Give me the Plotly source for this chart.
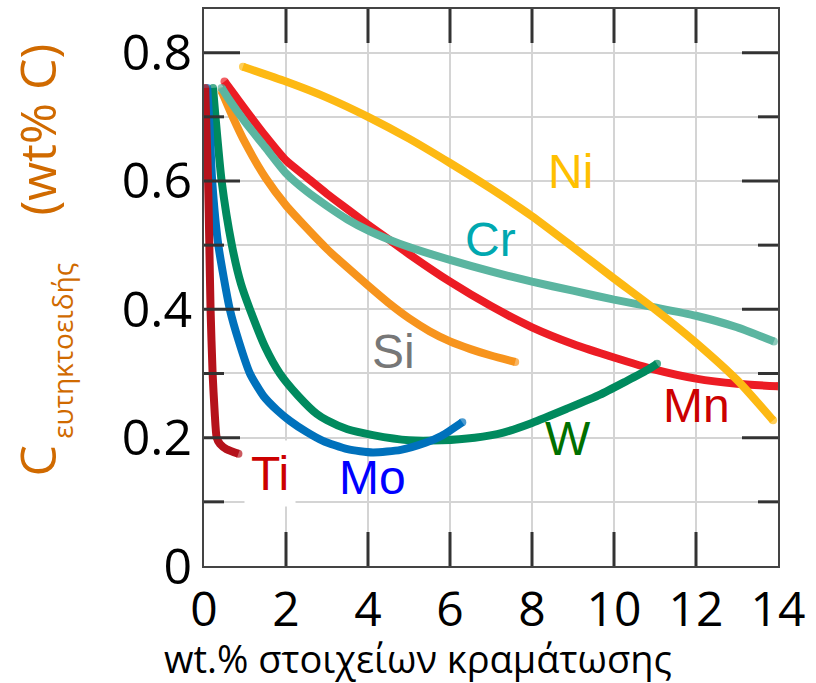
import plotly.graph_objects as go

# Eutectoid carbon content vs. alloying element content (wt.%)
ni_x = [0.95, 2.0, 3.0, 4.0, 5.0, 6.0, 7.0, 8.0, 9.0, 10.0, 11.0, 12.0, 13.0, 13.88]
ni_y = [0.778, 0.755, 0.730, 0.700, 0.666, 0.628, 0.588, 0.545, 0.497, 0.448, 0.400, 0.348, 0.290, 0.227]

cr_x = [0.43, 0.6, 1.0, 1.5, 2.0, 2.5, 3.0, 3.5, 4.0, 4.5, 5.0, 6.0, 7.0, 8.0, 9.0, 10.0, 11.0, 12.0, 13.0, 13.9]
cr_y = [0.745, 0.728, 0.692, 0.652, 0.612, 0.584, 0.561, 0.540, 0.523, 0.509, 0.497, 0.477, 0.459, 0.443, 0.429, 0.415, 0.403, 0.390, 0.372, 0.350]

mn_x = [0.5, 0.7, 1.0, 1.5, 2.0, 2.5, 3.0, 3.5, 4.0, 4.5, 5.0, 6.0, 7.0, 8.0, 9.0, 10.0, 11.0, 12.0, 13.0, 14.0]
mn_y = [0.755, 0.738, 0.712, 0.670, 0.632, 0.606, 0.580, 0.556, 0.532, 0.509, 0.486, 0.443, 0.405, 0.372, 0.346, 0.325, 0.306, 0.292, 0.284, 0.280]

si_x = [0.43, 0.7, 1.0, 1.5, 2.0, 2.5, 3.0, 3.5, 4.0, 4.5, 5.0, 5.5, 6.0, 6.5, 7.0, 7.59]
si_y = [0.740, 0.700, 0.660, 0.605, 0.562, 0.527, 0.494, 0.465, 0.437, 0.410, 0.386, 0.366, 0.350, 0.338, 0.328, 0.318]

w_x = [0.22, 0.28, 0.43, 0.68, 0.9, 1.12, 1.5, 1.85, 2.3, 2.75, 3.0, 3.5, 4.12, 5.0, 5.8, 6.6, 7.3, 8.0, 8.85, 9.66, 10.3, 10.8, 11.05]
w_y = [0.745, 0.700, 0.600, 0.500, 0.440, 0.400, 0.340, 0.300, 0.265, 0.237, 0.227, 0.213, 0.204, 0.196, 0.196, 0.200, 0.208, 0.223, 0.245, 0.267, 0.288, 0.305, 0.315]

mo_x = [0.08, 0.14, 0.2, 0.35, 0.63, 0.85, 1.12, 1.45, 1.78, 2.1, 2.5, 2.9, 3.5, 4.12, 4.8, 5.4, 5.8, 6.3]
mo_y = [0.745, 0.680, 0.600, 0.500, 0.400, 0.350, 0.300, 0.265, 0.243, 0.226, 0.209, 0.195, 0.182, 0.177, 0.181, 0.192, 0.203, 0.224]

ti_x = [0.03, 0.06, 0.10, 0.13, 0.16, 0.21, 0.26, 0.31, 0.39, 0.55, 0.84]
ti_y = [0.745, 0.680, 0.600, 0.500, 0.400, 0.300, 0.240, 0.200, 0.190, 0.182, 0.175]

x_ticks = [0, 2, 4, 6, 8, 10, 12, 14]
y_ticks = [0, 0.2, 0.4, 0.6, 0.8]
y_minor = [0.1, 0.3, 0.5, 0.7]
y_tick_text = ["0", "0.2", "0.4", "0.6", "0.8"]

# name, x, y, line colour, label colour, label position (x, y), white box
series = [
    ("Mn", mn_x, mn_y, "#EC1C24", "#CC0000", (12.02, 0.25), False),
    ("Si", si_x, si_y, "#F7941D", "#777777", (4.61, 0.335), False),
    ("Cr", cr_x, cr_y, "#5BB5A0", "#00A8B0", (6.98, 0.509), False),
    ("Ni", ni_x, ni_y, "#FDB913", "#FFC000", (8.93, 0.615), False),
    ("W", w_x, w_y, "#008A5E", "#007000", (8.88, 0.199), False),
    ("Mo", mo_x, mo_y, "#0071BC", "#0000FF", (4.12, 0.138), False),
    ("Ti", ti_x, ti_y, "#B5121B", "#CC0000", (1.61, 0.144), True),
]

LW = 8
fig = go.Figure()
for name, xs, ys, lc, tc, (lx, ly), boxed in series:
    caps = [LW] + [0] * (len(xs) - 2) + [LW]
    fig.add_trace(go.Scatter(
        x=xs, y=ys, mode="lines+markers", name=name,
        line=dict(color=lc, width=LW, shape="spline", smoothing=0.6),
        marker=dict(color=lc, size=caps, line=dict(width=0)),
        hoverinfo="skip", showlegend=False,
    ))
    fig.add_annotation(
        x=lx, y=ly, xref="x", yref="y", text=name, showarrow=False,
        xanchor="center", yanchor="middle",
        font=dict(family="Liberation Sans, Arial", size=48, color=tc),
        bgcolor="white" if boxed else None, borderpad=6 if boxed else 1,
    )

# plot area in page pixels
L, R, T, B = 204, 778, 7, 566


def px(xp):
    return (xp - L) / (R - L)


def py(yp):
    return (B - yp) / (B - T)


def page_text(xp, yp, text, size, color, angle=0):
    fig.add_annotation(x=px(xp), y=py(yp), xref="paper", yref="paper", text=text,
                       textangle=angle, showarrow=False,
                       xanchor="center", yanchor="middle",
                       font=dict(family="Open Sans", size=size, color=color))


TITLE_C = "#D06A00"
page_text(37, 128, "(wt% C)", 50, TITLE_C, -90)
page_text(37, 460, "C", 50, TITLE_C, -90)
page_text(62, 350, "ευτηκτοειδής", 28, TITLE_C, -90)
page_text(418, 658, "wt.% στοιχείων κραμάτωσης", 38, "black")

# inward tick marks on all four sides of the frame
TICK_C = "#333333"
MAJOR, MINOR = 34, 20
tick_line = dict(color=TICK_C, width=3)

for v in x_ticks[1:-1]:
    # bottom and top edges, length in pixels
    fig.add_shape(type="line", xref="x", yref="paper", ysizemode="pixel", yanchor=0,
                  x0=v, x1=v, y0=0, y1=MAJOR, layer="above", line=tick_line)
    fig.add_shape(type="line", xref="x", yref="paper", ysizemode="pixel", yanchor=1,
                  x0=v, x1=v, y0=0, y1=-MAJOR, layer="above", line=tick_line)
for vals, ln in ((y_ticks[1:], MAJOR + 2), (y_minor, MINOR)):
    for v in vals:
        fig.add_shape(type="line", xref="paper", yref="y", xsizemode="pixel", xanchor=0,
                      x0=0, x1=ln, y0=v, y1=v, layer="above", line=tick_line)
        fig.add_shape(type="line", xref="paper", yref="y", xsizemode="pixel", xanchor=1,
                      x0=0, x1=-ln, y0=v, y1=v, layer="above", line=tick_line)

grid_c = "#D4D4D4"
frame_c = "#444444"
fig.update_xaxes(
    range=[0, 14], tickvals=x_ticks, ticktext=[str(v) for v in x_ticks],
    ticks="", showline=True, linecolor=frame_c, linewidth=2, mirror=True,
    showgrid=True, gridcolor=grid_c, gridwidth=2, zeroline=False,
    tickfont=dict(family="Open Sans", size=48, color="black"),
)
fig.update_yaxes(
    range=[0, 0.868], tickvals=y_ticks, ticktext=y_tick_text,
    ticks="", showline=True, linecolor=frame_c, linewidth=2, mirror=True,
    showgrid=True, gridcolor=grid_c, gridwidth=2, zeroline=False,
    tickfont=dict(family="Open Sans", size=50, color="black"),
    minor=dict(dtick=0.1, showgrid=True, gridcolor=grid_c, gridwidth=2),
)
fig.update_layout(
    width=816, height=683,
    margin=dict(l=L, r=816 - R, t=T, b=683 - B),
    plot_bgcolor="white", paper_bgcolor="white",
)
fig.write_html("out.html")
